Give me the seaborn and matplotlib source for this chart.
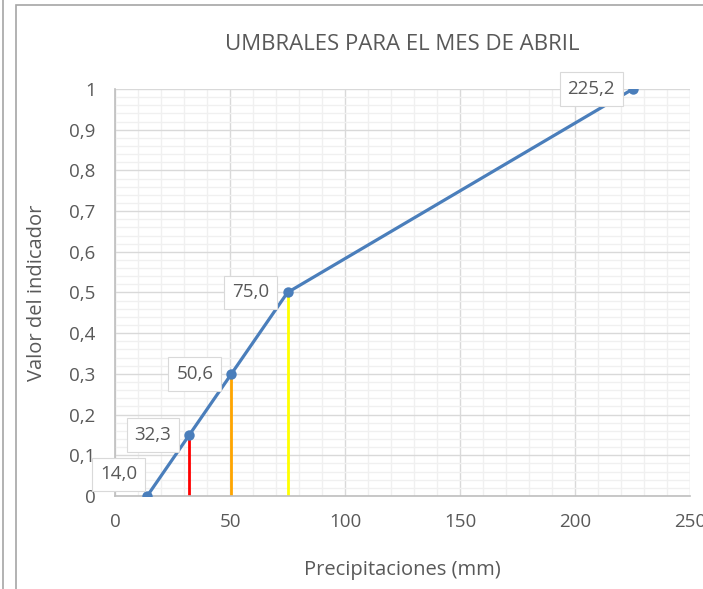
import matplotlib
matplotlib.use('Agg')
import matplotlib.pyplot as plt
import pandas as pd
import seaborn as sns
from matplotlib.ticker import MultipleLocator, FuncFormatter
from matplotlib.patches import Rectangle
from matplotlib.lines import Line2D

# Data
precip = [14.0, 32.3, 50.6, 75.0, 225.2]
indicador = [0.0, 0.15, 0.30, 0.50, 1.0]
labels = ['14,0', '32,3', '50,6', '75,0', '225,2']
umbral_x = [32.3, 50.6, 75.0]
umbral_y = [0.15, 0.30, 0.50]
umbral_colors = ['#ff0000', '#ffa500', '#ffff00']

df = pd.DataFrame({'precip': precip, 'indicador': indicador})

sns.set_style('white')
plt.rcParams['font.family'] = ['Open Sans', 'DejaVu Sans']
txt = '#595959'

fig = plt.figure(figsize=(7.03, 5.89), dpi=100)
ax = fig.add_axes([0.1636, 0.1579, 0.8179, 0.691])

# chart border and left edge line
fig.patches.append(Rectangle((16 / 703, -0.02), 0.99, 1 - 5 / 589 + 0.02, transform=fig.transFigure,
                             fill=False, edgecolor='#a6a6a6', linewidth=1.2))
fig.lines.append(Line2D([2.5 / 703, 2.5 / 703], [0, 1], transform=fig.transFigure,
                        color='#a6a6a6', linewidth=1.2))

ax.vlines(umbral_x, 0, umbral_y, colors=umbral_colors, linewidth=2, zorder=2)

sns.lineplot(data=df, x='precip', y='indicador', ax=ax, color='#4a7ebb', linewidth=2.3,
             marker='o', markersize=7.5, markeredgewidth=0, zorder=3, sort=False)

ax.set_xlim(0, 250)
ax.set_ylim(0, 1)
ax.xaxis.set_major_locator(MultipleLocator(50))
ax.xaxis.set_minor_locator(MultipleLocator(10))
ax.yaxis.set_major_locator(MultipleLocator(0.1))
ax.yaxis.set_minor_locator(MultipleLocator(0.02))
ax.yaxis.set_major_formatter(FuncFormatter(lambda v, p: ('%g' % round(v, 2)).replace('.', ',')))
ax.grid(which='major', color='#d9d9d9', linewidth=1)
ax.grid(which='minor', color='#f0f0f0', linewidth=1)
ax.set_axisbelow(True)
for s in ['top', 'right']:
    ax.spines[s].set_visible(False)
for s in ['left', 'bottom']:
    ax.spines[s].set_color('#bfbfbf')
    ax.spines[s].set_linewidth(1.2)
ax.tick_params(which='both', length=0, labelsize=13.5, labelcolor=txt)
ax.tick_params(axis='x', pad=12)
ax.tick_params(axis='y', pad=14)

ax.set_title('UMBRALES PARA EL MES DE ABRIL', fontsize=16, color=txt, pad=28)
ax.set_xlabel('Precipitaciones (mm)', fontsize=14.5, color=txt, labelpad=21)
ax.set_ylabel('Valor del indicador', fontsize=14.5, color=txt, labelpad=16)

for i, (x, y, lab) in enumerate(zip(precip, indicador, labels)):
    if i == 0:
        off, ha = (-20.5, 15.5), 'center'
    else:
        off, ha = (-13, 0), 'right'
    ax.annotate(lab, (x, y), xytext=off, textcoords='offset points', ha=ha, va='center',
                fontsize=13.5, color=txt, zorder=5, annotation_clip=False,
                bbox=dict(boxstyle='square,pad=0.42', fc='white', ec='#d9d9d9', lw=0.8))

fig.savefig('out.png', dpi=100)
